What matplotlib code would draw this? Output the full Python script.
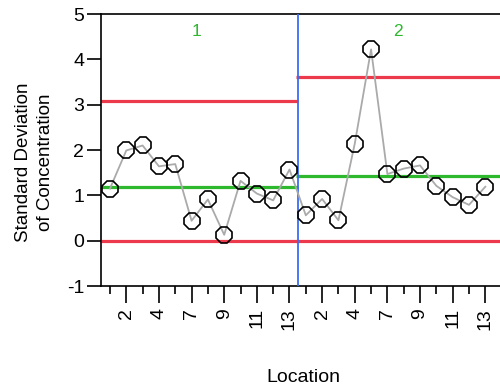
import numpy as np
import matplotlib.pyplot as plt

plt.rcParams['font.family'] = ['Liberation Sans', 'DejaVu Sans']
plt.rcParams['axes.unicode_minus'] = False

# Location codes (position 6 has no measurement)
locations = [1, 2, 3, 4, 5, 7, 8, 9, 10, 11, 12, 13]
groups = ['1', '2']

# standard deviation of concentration, one list per group
sd_group1 = [1.15, 1.99, 2.10, 1.64, 1.69, 0.44, 0.91, 0.13, 1.32, 1.04, 0.89, 1.57]
sd_group2 = [0.56, 0.92, 0.45, 2.14, 4.22, 1.47, 1.59, 1.66, 1.21, 0.96, 0.79, 1.19]

# control limits per group: lower, centre, upper
lcl = [0.0, 0.0]
center = [1.19, 1.42]
ucl = [3.08, 3.60]

tick_labels = [str(v) for v in locations] * 2

RED = '#ec3a4c'
GREEN = '#2db82d'
BLUE = '#3a6cf4'

fig = plt.figure(figsize=(5.0, 3.86), dpi=100)
ax = fig.add_axes([0.202, 0.259, 0.798, 0.7047])

values = sd_group1 + sd_group2
x = np.arange(len(values))
n1 = len(sd_group1)
split = n1 - 0.5
xmin, xmax = -0.55, 23.9

# control limit segments for each group
spans = [(xmin, split + 0.05), (split - 0.12, xmax)]
for i, (a, b) in enumerate(spans):
    ax.plot([a, b], [ucl[i], ucl[i]], color=RED, lw=2.3, solid_capstyle='butt', zorder=2)
    ax.plot([a, b], [lcl[i], lcl[i]], color=RED, lw=2.3, solid_capstyle='butt', zorder=2)
    ax.plot([a, b], [center[i], center[i]], color=GREEN, lw=2.3, solid_capstyle='butt', zorder=2)
    ax.text((a + b) / 2 - (0.2 if i == 0 else 0), 4.61, groups[i], color=GREEN,
            fontsize=12.5, ha='center', va='center')

ax.axvline(split, color=BLUE, lw=1.3, zorder=3)

ax.plot(x, values, color='#aaaaaa', lw=1.3, zorder=4)
ax.plot(x, values, ls='none', marker='8', ms=13, mfc='none', mec='black', mew=1.2, zorder=5)

ax.set_xlim(xmin, xmax)
ax.set_ylim(-1, 5)
ax.set_yticks(range(-1, 6))
ax.tick_params(axis='y', labelsize=14, length=10, width=1.2, direction='out', pad=2)

ax.set_xticks(x[1::2], minor=False)
ax.set_xticks(x[0::2], minor=True)
ax.set_xticklabels(tick_labels[1::2], rotation=90, fontsize=14)
ax.tick_params(axis='x', which='major', length=12, width=1.2, pad=4)
ax.tick_params(axis='x', which='minor', length=6, width=1.2)

for s in ['left', 'bottom', 'top']:
    ax.spines[s].set_linewidth(1.2)
ax.spines['right'].set_visible(False)

fig.text(0.069, 0.58, 'Standard Deviation\nof Concentration', fontsize=13.5,
         rotation=90, ha='center', va='center', linespacing=1.4)
fig.text(0.606, 0.023, 'Location', fontsize=14, ha='center', va='center')

plt.savefig('out.png', dpi=100)
